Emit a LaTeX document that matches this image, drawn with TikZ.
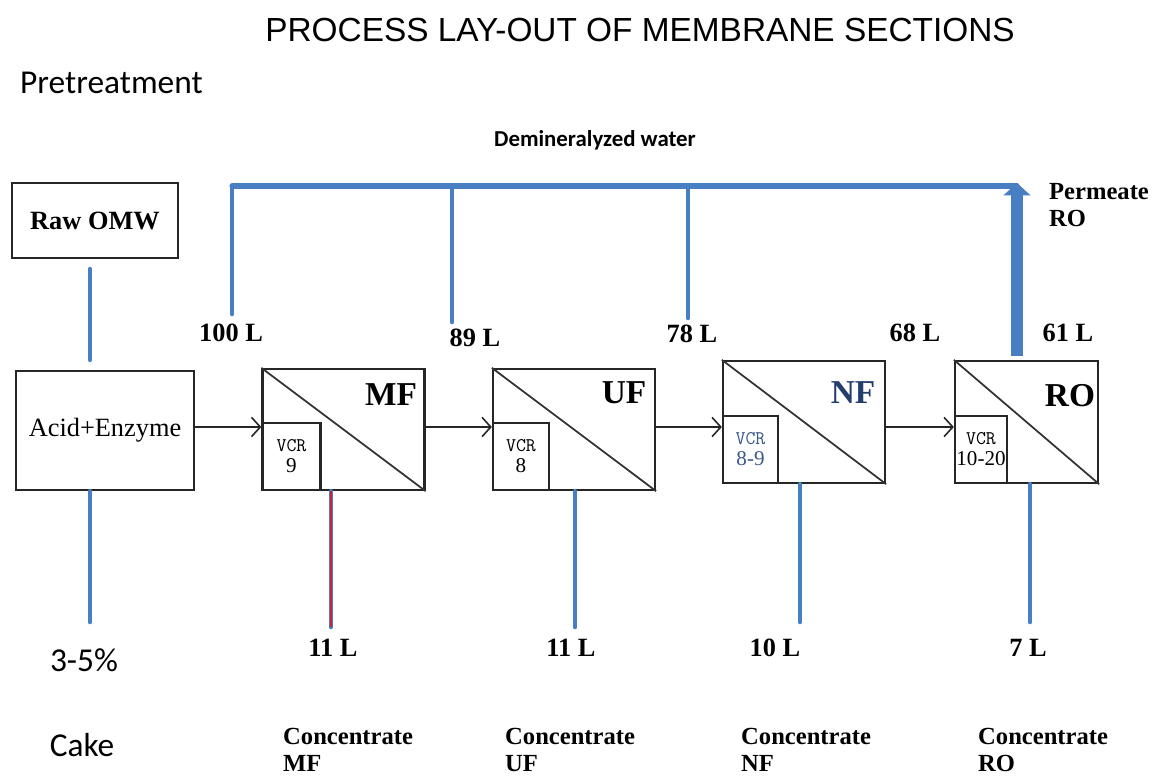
\documentclass[tikz,border=0pt]{standalone}
\usepackage{fontspec}
\setmainfont{Liberation Serif}
\newfontfamily\headfont{Liberation Sans}
\newfontfamily\calfont{Carlito}
\usetikzlibrary{arrows.meta,positioning}

\definecolor{flowblue}{RGB}{72,126,194}
\definecolor{nfblue}{RGB}{36,62,108}
\definecolor{vcrblue}{RGB}{58,88,138}
\definecolor{spotred}{RGB}{205,30,60}

\tikzset{
  box/.style={draw=black!85, line width=1.3pt, inner sep=0pt},
  memb/.style={box, minimum width=3.24cm, minimum height=2.42cm},
  vcrbox/.style={box, anchor=south west, align=center, minimum width=#1, text width=#1, minimum height=1.34cm},
  flow/.style={draw=flowblue, line width=2.6pt, line cap=round},
  feed/.style={draw=black!85, line width=0.9pt, -{Straight Barb[length=5pt,width=11pt]}},
  vol/.style={font=\bfseries\fontsize{15}{18}\selectfont},
  tag/.style={font=\bfseries\fontsize{19}{22}\selectfont},
  stream/.style={anchor=west, align=left, font=\bfseries\fontsize{14}{15}\selectfont},
  cal/.style={font=\calfont\fontsize{19}{22}\selectfont},
}
\newcommand{\vcr}[1]{{\ttfamily\fontsize{11}{14}\selectfont VCR}\\{\fontsize{12}{14}\selectfont #1}\\[4pt]}

\begin{document}
\begin{tikzpicture}[x=0.02cm, y=-0.02cm]
    \useasboundingbox (0,0) rectangle (1167,778);

    \node (title) at (640,30) {\headfont\fontsize{19}{22}\selectfont PROCESS LAY-OUT OF MEMBRANE SECTIONS};
    \node[cal, anchor=west] (pretreat) at (14,83) {Pretreatment};
    \node (demin) at (595,140) {\calfont\bfseries\fontsize{13}{15}\selectfont Demineralyzed water};

    % pretreatment
    \node[box, minimum width=3.32cm, minimum height=1.5cm, font=\bfseries\fontsize{15}{18}\selectfont] (raw) at (95,220.5) {Raw OMW};
    \node[box, minimum width=3.56cm, minimum height=2.38cm, font=\fontsize{15}{18}\selectfont] (acid) at (105,430.5) {Acid+Enzyme};
    \draw[flow, shorten <=0.2cm, shorten >=0.2cm] (raw.south -| 90,0) -- (acid.north -| 90,0);
    \coordinate (cakeend) at (90,622);
    \draw[flow] (acid.south -| cakeend) -- (cakeend);
    \node[cal] (cakepct) at (84,660) {3-5\%};
    \node[cal] (cake) at (82,745) {Cake};

    % membrane units
    \node[memb] (mf) at (343.5,429.5) {};
    \node[memb] (uf) at (574,429.5) {};
    \node[memb, minimum height=2.44cm] (nf) at (804,422) {};
    \node[memb, minimum width=2.86cm, minimum height=2.44cm] (ro) at (1026.5,422) {};
    \foreach \u in {mf,uf,nf,ro}
        \draw[black!80, line width=1pt] (\u.north west) -- (\u.south east);

    \node[vcrbox=1.16cm] (mfvcr) at (mf.south west) {\vcr{9}};
    \node[vcrbox=1.12cm] (ufvcr) at (uf.south west) {\vcr{8}};
    \node[vcrbox=1.10cm, text=vcrblue] (nfvcr) at (nf.south west) {\vcr{8-9}};
    \node[vcrbox=1.04cm] (rovcr) at (ro.south west) {\vcr{10-20}};

    \node[tag] (mftag) at (391,395) {MF};
    \node[tag] (uftag) at (624,393) {UF};
    \node[tag, text=nfblue] (nftag) at (853,393) {NF};
    \node[tag] (rotag) at (1070,396) {RO};

    % feed line
    \coordinate (feedy) at (0,427);
    \draw[feed] (acid.east |- feedy) -- (mf.west |- feedy);
    \draw[feed] (mf.east |- feedy) -- (uf.west |- feedy);
    \draw[feed] (uf.east |- feedy) -- (nf.west |- feedy);
    \draw[feed] (nf.east |- feedy) -- (ro.west |- feedy);

    % demineralyzed water header
    \coordinate (hdrL) at (232,186);
    \coordinate (hdrR) at (1017,186);
    \coordinate (in100) at (232,314);
    \coordinate (in89) at (452,322);
    \coordinate (in78) at (688,318);
    \draw[flow, line width=2.9pt] (hdrL) -- (hdrR);
    \draw[flow] (hdrL) -- (in100);
    \draw[flow] (in89 |- hdrL) -- (in89);
    \draw[flow] (in78 |- hdrL) -- (in78);
    \draw[draw=flowblue, line width=6.8pt, -{Triangle[length=7pt,width=15pt]}]
        ([yshift=0.08cm]ro.north -| hdrR) -- ([yshift=0.06cm]hdrR);

    \node[vol] (l100) at (231,333) {100 L};
    \node[vol] (l89) at (475,338) {89 L};
    \node[vol] (l78) at (692,334) {78 L};
    \node[vol] (l68) at (915,333) {68 L};
    \node[vol] (l61) at (1068,333) {61 L};
    \node[stream] (permro) at (1043,205) {Permeate\\RO};

    % concentrates
    \coordinate (mfout) at (331,627);
    \coordinate (ufout) at (575,627);
    \coordinate (nfout) at (800,622);
    \coordinate (roout) at (1030,622);
    \draw[flow] (mf.south -| mfout) -- (mfout);
    \draw[spotred, line width=1.1pt] (mf.south -| mfout) -- (mfout);
    \draw[flow] (uf.south -| ufout) -- (ufout);
    \draw[flow] (nf.south -| nfout) -- (nfout);
    \draw[flow] (ro.south -| roout) -- (roout);

    \node[vol] (c11a) at (333,648) {11 L};
    \node[vol] (c11b) at (571,648) {11 L};
    \node[vol] (c10) at (775,648) {10 L};
    \node[vol] (c7) at (1028,648) {7 L};

    \node[stream] (cmf) at (277,750) {Concentrate\\MF};
    \node[stream] (cuf) at (499,750) {Concentrate\\UF};
    \node[stream] (cnf) at (735,750) {Concentrate\\NF};
    \node[stream] (cro) at (972,750) {Concentrate\\RO};
\end{tikzpicture}
\end{document}
